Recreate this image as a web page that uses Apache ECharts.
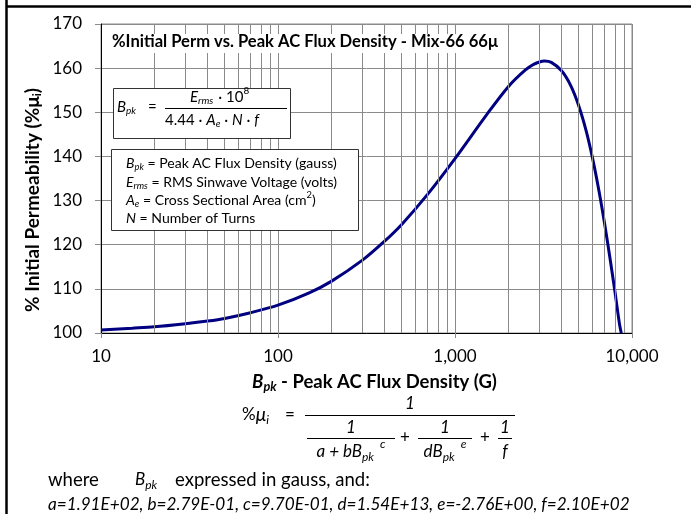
<!DOCTYPE html>
<html><head><meta charset="utf-8">
<script src="https://cdn.jsdelivr.net/npm/echarts@6/dist/echarts.min.js"></script>
<style>html,body{margin:0;padding:0;background:#fff}#c{width:691px;height:514px}</style>
</head><body><div id="c"></div>
<script>
// ---- data ----
const fluxDensity = [10,15,20,30,40,50,70,100,150,200,300,400,500,700,1000,1500,2000,2500,2800,3000,3200,3500,4000,4500,5000,5500,6000,6500,7000,7500,8000,8500,8700];
const initialPerm = [100.7,101.1,101.4,102.1,102.7,103.3,104.6,106.3,109.1,111.7,116.5,120.8,124.6,131.4,139.5,149.3,155.8,159.6,160.9,161.4,161.6,161.3,159.4,156.1,151.5,145.9,139.4,132.3,124.8,117.1,109.5,102.0,100.0];
const minorGridX = [20,30,40,50,60,70,80,90,200,300,400,500,600,700,800,900,2000,3000,4000,5000,6000,7000,8000,9000];
const chartTitle = '%Initial Perm vs. Peak AC Flux Density - Mix-66 66μ';
const coefficientText = 'a=1.91E+02, b=2.79E-01, c=9.70E-01, d=1.54E+13, e=-2.76E+00, f=2.10E+02';

// ---- helpers for text layout ----
const mctx = document.createElement('canvas').getContext('2d');
function F(size, s){ s = s || 'r'; return (s.indexOf('i')>=0?'italic ':'') + (s.indexOf('b')>=0?'bold ':'') + size.toFixed(2) + 'px Lato'; }
function tw(t, font){ mctx.font = font; return mctx.measureText(t).width; }
function txt(x, y, t, font, align){ return {type:'text', x:x, y:y, z:101, silent:true, style:{text:t, font:font, fill:'#000', align:align||'left', verticalAlign:'middle'}}; }
// pieces: [text, size, style, dy, gapAfter]
function widthOf(pieces, k){ return pieces.reduce((s,p)=>s + tw(p[0], F(p[1]*k, p[2])) + (p[4]||0), 0); }
function run(x, y, pieces, align, target){
  let k = 1;
  if (target) { const gaps = pieces.reduce((s,p)=>s+(p[4]||0),0); k = (target - gaps) / (widthOf(pieces,1) - gaps); }
  const total = widthOf(pieces, k);
  let cx = align==='center' ? x - total/2 : (align==='right' ? x - total : x);
  const els = [];
  for (const p of pieces){ const f = F(p[1]*k, p[2]); els.push(txt(cx, y + (p[3]||0), p[0], f)); cx += tw(p[0], f) + (p[4]||0); }
  return els;
}
function hline(x1, x2, y, w){ return {type:'line', z:101, silent:true, shape:{x1:x1, y1:y, x2:x2, y2:y}, style:{stroke:'#000', lineWidth:w||1}}; }
function box(x, y, w, h, stroke){ return {type:'rect', z:100, silent:true, shape:{x:x, y:y, width:w, height:h}, style:{fill:'#fff', stroke:stroke||null, lineWidth:1}}; }

const g = [];
// outer frame
g.push({type:'line', z:101, silent:true, shape:{x1:6, y1:6.5, x2:691, y2:6.5}, style:{stroke:'#000', lineWidth:2.5}});
g.push({type:'line', z:101, silent:true, shape:{x1:6.5, y1:0, x2:6.5, y2:514}, style:{stroke:'#000', lineWidth:2.5}});
// title
g.push(box(102, 34, 402, 19));
g.push(...run(112, 42, [[chartTitle, 15, 'b']], 'left', 386));
// B_pk formula box
g.push(box(113.5, 88.5, 177, 50, '#333'));
g.push(...run(117, 107, [['B', 15, 'i'], ['pk', 10, 'i', 4]]));
g.push(txt(148, 107, '=', F(15)));
g.push(hline(165, 287, 108.5));
g.push(...run(190, 97, [['E', 15, 'i'], ['rms', 10, 'i', 4, 5], ['· 10', 15], ['8', 10, 'r', -6]]));
g.push(...run(165, 120, [['4.44 · ', 15], ['A', 15, 'i'], ['e', 10, 'i', 4], [' · ', 15], ['N', 15, 'i'], [' · ', 15], ['f', 15, 'i']]));
// definitions box
g.push(box(111.5, 149.5, 247, 81, '#333'));
const defK = 211 / widthOf([['B', 15, 'i'], ['pk', 10, 'i'], [' = Peak AC Flux Density (gauss)', 15]], 1);
const ds = 15*defK, dsub = 10*defK;
g.push(...run(126, 163, [['B', ds, 'i'], ['pk', dsub, 'i', 4], [' = Peak AC Flux Density (gauss)', ds]]));
g.push(...run(126, 182, [['E', ds, 'i'], ['rms', dsub, 'i', 4], [' = RMS Sinwave Voltage (volts)', ds]]));
g.push(...run(126, 200, [['A', ds, 'i'], ['e', dsub, 'i', 4], [' = Cross Sectional Area (cm', ds], ['2', dsub, 'r', -5], [')', ds]]));
g.push(...run(126, 218, [['N', ds, 'i'], [' = Number of Turns', ds]]));
// y axis title (rotated)
g.push({type:'group', x:33, y:200, rotation:Math.PI/2,
  children: run(0, 0, [['% Initial Permeability (%μ', 16, 'b'], ['i', 10, 'b', 4], [')', 16, 'b']], 'center', 224)});
// x axis title
g.push(...run(374.5, 382, [['B', 16, 'bi'], ['pk', 11, 'bi', 5], [' - Peak AC Flux Density (G)', 16, 'b']], 'center', 245));
// bottom formula
g.push(...run(242, 415, [['%', 17], ['μ', 19, 'i'], ['i', 12, 'i', 5]]));
g.push(txt(285, 415, '=', F(17)));
g.push(hline(305, 515, 415.5));
g.push(txt(410, 404, '1', F(17,'i'), 'center'));
g.push(hline(307, 395, 438.5));
g.push(txt(351, 428, '1', F(17,'i'), 'center'));
g.push(...run(351, 452, [['a + bB', 17, 'i'], ['pk', 12, 'i', 5, 6], ['c', 12, 'i', -8]], 'center'));
g.push(txt(405, 438, '+', F(17), 'center'));
g.push(hline(418, 472, 438.5));
g.push(txt(445, 428, '1', F(17,'i'), 'center'));
g.push(...run(445, 452, [['dB', 17, 'i'], ['pk', 12, 'i', 5, 6], ['e', 12, 'i', -8]], 'center'));
g.push(txt(485, 438, '+', F(17), 'center'));
g.push(hline(498, 512, 438.5));
g.push(txt(505, 428, '1', F(17,'i'), 'center'));
g.push(txt(505, 452, 'f', F(17,'i'), 'center'));
// where line
const exK = 195 / tw('expressed in gauss, and:', F(16));
const exSize = 16 * exK;
g.push(txt(48, 480, 'where', F(exSize)));
g.push(...run(135, 480, [['B', 17, 'i'], ['pk', 12, 'i', 5]]));
g.push(txt(175, 480, 'expressed in gauss, and:', F(exSize)));
g.push(...run(48, 504, [[coefficientText, 15, 'i']], 'left', 582));

const chart = echarts.init(document.getElementById('c'), null, {renderer:'canvas'});
const gridColor = '#8a8a8a';
chart.setOption({
  animation:false,
  backgroundColor:'#fff',
  grid:{left:101, right:59, top:24, bottom:181, show:true, borderColor:gridColor, borderWidth:1},
  xAxis:{type:'log', logBase:10, min:10, max:10000,
    axisLine:{show:true, onZero:false, lineStyle:{color:'#000', width:1}},
    axisTick:{show:true, length:5, lineStyle:{color:gridColor}},
    axisLabel:{fontFamily:'Lato', fontSize:17, color:'#000', margin:15, formatter:v=>Math.round(v).toLocaleString('en-US')},
    splitLine:{show:true, lineStyle:{color:gridColor, width:1}}},
  yAxis:{type:'value', min:100, max:170, interval:10,
    axisLine:{show:true, lineStyle:{color:'#000', width:1}},
    axisTick:{show:true, length:6, lineStyle:{color:gridColor}},
    axisLabel:{fontFamily:'Lato', fontSize:17, color:'#000', margin:19},
    splitLine:{show:true, lineStyle:{color:gridColor, width:1}}},
  series:[
    {type:'line', z:1, silent:true, data:fluxDensity.map((x,i)=>[x, initialPerm[i]]), showSymbol:false, lineStyle:{opacity:0},
     markLine:{silent:true, symbol:['none','none'], label:{show:false}, animation:false,
       lineStyle:{color:gridColor, type:'solid', width:1}, data:minorGridX.map(v=>({xAxis:v}))}},
    {type:'line', z:3, data:fluxDensity.map((x,i)=>[x, initialPerm[i]]), showSymbol:false, smooth:0.3,
     lineStyle:{color:'#000080', width:3}}
  ],
  graphic:g
});
</script></body></html>
